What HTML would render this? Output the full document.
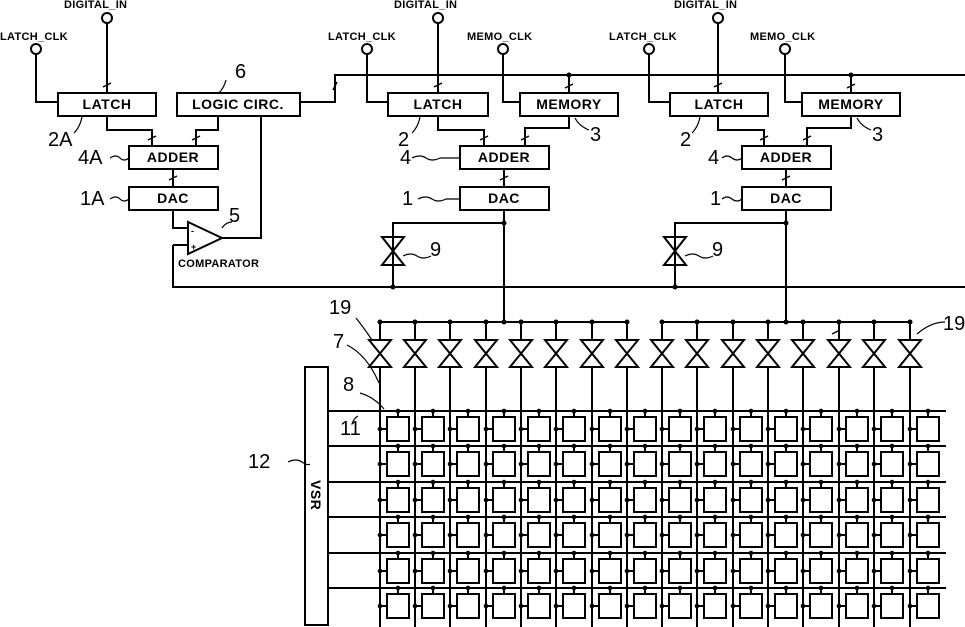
<!DOCTYPE html>
<html><head><meta charset="utf-8"><style>
body{margin:0;background:#fff}
svg{display:block}
text{font-family:"Liberation Sans",sans-serif;font-weight:bold;fill:#000}
.b{font-size:14px;letter-spacing:0.5px}
.s{font-size:11px;letter-spacing:0.3px}
.n{font-size:20px;font-weight:normal}
</style></head><body>
<svg id="s" width="965" height="627" viewBox="0 0 965 627" xmlns="http://www.w3.org/2000/svg">
<g fill="none" stroke="#000" stroke-width="2">
<circle cx="107" cy="18" r="5"/><circle cx="36" cy="49" r="5"/>
<path d="M107 23V93M36 54V102H58M107 116V130H152V146M218 116V130H196V146M173 169V187M173 210V228H188M173 245H188M173 245V287H965M222 238H261V116M300 102H335V75H965"/>
<rect x="58" y="93" width="98" height="23"/>
<rect x="177" y="93" width="123" height="23"/>
<rect x="129" y="146" width="89" height="23"/>
<rect x="129" y="187" width="89" height="23"/>
<path d="M188 222L222 238L188 254Z"/>
<circle cx="438" cy="18" r="5"/><circle cx="367" cy="49" r="5"/><circle cx="503" cy="49" r="5"/>
<path d="M438 23V93M367 54V102H388M503 54V102H520M569 75V93M438 116V130H484V146M569 116V128H525V146M504 169V187M504 210V322M504 223H393V287"/>
<rect x="388" y="93" width="100" height="23"/>
<rect x="520" y="93" width="98" height="23"/>
<rect x="460" y="146" width="89" height="23"/>
<rect x="460" y="187" width="89" height="23"/>
<path d="M382 237H404L382 265H404Z"/>
<circle cx="718" cy="18" r="5"/><circle cx="649" cy="49" r="5"/><circle cx="785" cy="49" r="5"/>
<path d="M718 23V93M649 54V102H670M785 54V102H802M851 75V93M718 116V130H764V146M851 116V128H807V146M786 169V187M786 210V322M786 223H675V287"/>
<rect x="670" y="93" width="98" height="23"/>
<rect x="802" y="93" width="98" height="23"/>
<rect x="742" y="146" width="89" height="23"/>
<rect x="742" y="187" width="89" height="23"/>
<path d="M664 237H686L664 265H686Z"/>
<path d="M380 322H627M662 322H910"/>
<rect x="305" y="367" width="23" height="258"/>
<g id="grid"></g>
<path stroke-width="1.2" d="M82 117q-2 10 -8 16M110 158q6 -4 10 0t9 0M110 199q6 -4 10 0t9 0M226 80q-2 8 -8 14M232 222q-6 0 -10 6M420 117q-2 10 -8 16M412 158q8 -4 14 0t14 0h20M418 199q8 -4 14 0t14 0h14M575 118q4 8 14 12M403 256q8 -4 14 0t14 0M700 117q-2 10 -8 16M722 158q5 -4 10 0t10 0M722 199q5 -4 10 0t10 0M857 118q4 8 14 12M685 256q8 -4 14 0t14 0M356 318q8 10 16 22M945 322q-14 0 -28 12M347 345q20 10 32 38M360 393q14 4 24 16M352 424q2 -6 6 -8M288 462q8 -4 14 0t8 2"/>
<path stroke-width="1.5" d="M103 87l8 -4M148 140l8 -4M192 140l8 -4M169 180l8 -4M434 87l8 -4M480 140l8 -4M521 140l8 -4M500 180l8 -4M565 88l8 -4M714 87l8 -4M760 140l8 -4M803 140l8 -4M782 180l8 -4M847 88l8 -4M333 90l4 -8M832 334l8 -4"/>
</g>
<g fill="#000">
<circle cx="569" cy="75" r="2.5"/><circle cx="851" cy="75" r="2.5"/>
<circle cx="504" cy="223" r="2.5"/><circle cx="786" cy="223" r="2.5"/>
<circle cx="393" cy="287" r="2.5"/><circle cx="675" cy="287" r="2.5"/>
<circle cx="504" cy="322" r="2.5"/><circle cx="786" cy="322" r="2.5"/>
</g>
<g id="dots" fill="#000"></g>
<text class="s" x="64" y="8">DIGITAL_IN</text>
<text class="s" x="0" y="40">LATCH_CLK</text>
<text class="s" x="394" y="8">DIGITAL_IN</text>
<text class="s" x="328" y="40">LATCH_CLK</text>
<text class="s" x="467" y="40">MEMO_CLK</text>
<text class="s" x="674" y="8">DIGITAL_IN</text>
<text class="s" x="609" y="40">LATCH_CLK</text>
<text class="s" x="750" y="40">MEMO_CLK</text>
<text class="b" x="107" y="109" text-anchor="middle">LATCH</text>
<text class="b" x="238" y="109" text-anchor="middle" letter-spacing="1.5">LOGIC CIRC.</text>
<text class="b" x="173" y="162" text-anchor="middle">ADDER</text>
<text class="b" x="173" y="203" text-anchor="middle">DAC</text>
<text class="b" x="438" y="109" text-anchor="middle">LATCH</text>
<text class="b" x="569" y="109" text-anchor="middle">MEMORY</text>
<text class="b" x="504" y="162" text-anchor="middle">ADDER</text>
<text class="b" x="504" y="203" text-anchor="middle">DAC</text>
<text class="b" x="719" y="109" text-anchor="middle">LATCH</text>
<text class="b" x="851" y="109" text-anchor="middle">MEMORY</text>
<text class="b" x="786" y="162" text-anchor="middle">ADDER</text>
<text class="b" x="786" y="203" text-anchor="middle">DAC</text>
<text class="s" x="178" y="267">COMPARATOR</text>
<text style="font-size:9px" x="191" y="234">-</text>
<text style="font-size:9px" x="191" y="250">+</text>
<text class="n" x="235" y="78">6</text>
<text class="n" x="48" y="146">2A</text>
<text class="n" x="78" y="164">4A</text>
<text class="n" x="80" y="205">1A</text>
<text class="n" x="229" y="222">5</text>
<text class="n" x="398" y="146">2</text>
<text class="n" x="590" y="141">3</text>
<text class="n" x="400" y="164">4</text>
<text class="n" x="402" y="205">1</text>
<text class="n" x="430" y="256">9</text>
<text class="n" x="680" y="146">2</text>
<text class="n" x="872" y="141">3</text>
<text class="n" x="708" y="164">4</text>
<text class="n" x="710" y="205">1</text>
<text class="n" x="712" y="256">9</text>
<text class="n" x="329" y="314">19</text>
<text class="n" x="943" y="330">19</text>
<text class="n" x="333" y="348">7</text>
<text class="n" x="343" y="391">8</text>
<text class="n" x="340" y="435">11</text>
<text class="n" x="248" y="468">12</text>
<text class="b" transform="translate(311,480) rotate(90)">VSR</text>
</svg>
<script>
var g=document.getElementById('grid'),d=document.getElementById('dots'),ns='http://www.w3.org/2000/svg';
function el(p,t,a){var e=document.createElementNS(ns,t);for(var k in a)e.setAttribute(k,a[k]);p.appendChild(e);}
var cols=[380,415,450,486,521,556,592,627,662,697,733,768,803,839,874,910];
var rows=[411,446,482,517,553,588];
var s='';
rows.forEach(function(y){s+='M328 '+y+'H946';});
cols.forEach(function(x){
 s+='M'+x+' 322V340M'+x+' 367V627';
 s+='M'+(x-11)+' 340H'+(x+11)+'L'+(x-11)+' 367H'+(x+11)+'Z';
 el(d,'circle',{cx:x,cy:322,r:2.5});
 rows.forEach(function(y){
  var bx=x+7,bw=22;
  s+='M'+bx+' '+(y+6)+'h'+bw+'v24h-'+bw+'Z';
  s+='M'+(bx+11)+' '+y+'v6M'+x+' '+(y+18)+'h7';
  el(d,'circle',{cx:bx+11,cy:y,r:2.3});
  el(d,'circle',{cx:x,cy:y+18,r:2.3});
 });
});
el(g,'path',{d:s});
</script>
</body></html>
